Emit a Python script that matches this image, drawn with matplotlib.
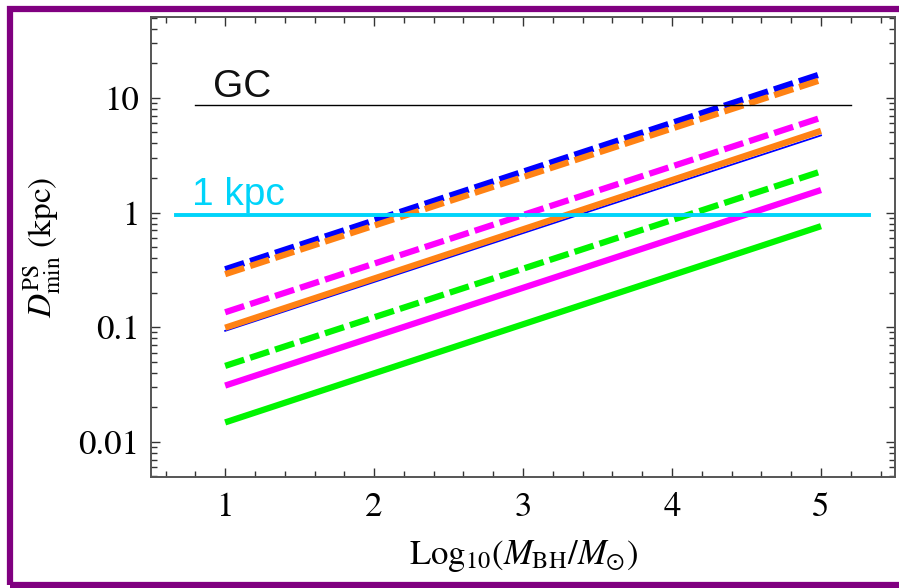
import matplotlib
matplotlib.use("Agg")
import matplotlib.pyplot as plt
from matplotlib.patches import Rectangle
from matplotlib.ticker import LogLocator, MultipleLocator, FixedLocator, FixedFormatter, NullFormatter

plt.rcParams['mathtext.fontset'] = 'stix'
plt.rcParams['font.family'] = ['STIXGeneral', 'DejaVu Serif']

# ---- data ----
log_mass = [1, 5]
blue_dashed = [0.32, 16.1]
orange_dashed = [0.29, 14.3]
magenta_dashed = [0.135, 6.7]
blue_solid = [0.093, 4.7]
orange_solid = [0.099, 5.15]
green_dashed = [0.046, 2.28]
magenta_solid = [0.031, 1.57]
green_solid = [0.0148, 0.76]

gc_x = [0.8, 5.2]
gc_y = [8.6, 8.6]
kpc_x = [0.67, 5.32]
kpc_y = [0.95, 0.95]

x_ticks = [1, 2, 3, 4, 5]
y_ticks = [0.01, 0.1, 1, 10]
y_tick_labels = ['0.01', '0.1', '1', '10']

BLUE = '#0000FF'
ORANGE = '#FF8214'
MAGENTA = '#FF00FF'
GREEN = '#00F500'
CYAN = '#00D4FA'

fig = plt.figure(figsize=(8.99, 5.88), dpi=100)
ax = fig.add_axes([0.1676, 0.1888, 0.9961 - 0.1676, 0.9716 - 0.1888])

lw = 4.5
dash = (3.2, 1.0)

def dashed(y, c):
    l, = ax.plot(log_mass, y, color=c, lw=lw, solid_capstyle='butt', dash_capstyle='butt')
    l.set_dashes(dash)

dashed(blue_dashed, BLUE)
dashed(orange_dashed, ORANGE)
dashed(magenta_dashed, MAGENTA)
ax.plot(log_mass, blue_solid, color=BLUE, lw=1.3)
ax.plot(log_mass, orange_solid, color=ORANGE, lw=lw, solid_capstyle='butt')
dashed(green_dashed, GREEN)
ax.plot(log_mass, magenta_solid, color=MAGENTA, lw=lw, solid_capstyle='butt')
ax.plot(log_mass, green_solid, color=GREEN, lw=lw, solid_capstyle='butt')

ax.plot(gc_x, gc_y, color='black', lw=1.0)
ax.plot(kpc_x, kpc_y, color=CYAN, lw=2.8)

ax.text(0.92, 8.65, 'GC', fontsize=28, family=['Liberation Sans'], color='#111111',
        ha='left', va='bottom')
ax.text(0.78, 0.99, '1 kpc', fontsize=28, family=['Liberation Sans'], color=CYAN,
        ha='left', va='bottom')

ax.set_yscale('log')
ax.set_xlim(0.5, 5.5)
ax.set_ylim(0.00495, 50.9)

ax.xaxis.set_major_locator(FixedLocator(x_ticks))
ax.xaxis.set_minor_locator(MultipleLocator(0.2))
ax.yaxis.set_major_locator(FixedLocator(y_ticks))
ax.yaxis.set_major_formatter(FixedFormatter(y_tick_labels))
ax.yaxis.set_minor_locator(LogLocator(base=10, subs=range(2, 10)))
ax.yaxis.set_minor_formatter(NullFormatter())

for s in ax.spines.values():
    s.set_color('#555555')
    s.set_linewidth(1.4)

ax.tick_params(which='both', direction='in', top=True, right=True, color='#333333', width=1.0)
ax.tick_params(which='major', length=6.5, labelsize=25)
ax.tick_params(which='minor', length=4)
ax.tick_params(axis='x', which='major', pad=11)
ax.tick_params(axis='y', which='major', pad=8)

ax.set_xlabel(r'$\mathrm{Log}_{10}(M_{\mathrm{BH}}/M_{\odot})$', fontsize=25, labelpad=10)
ax.set_ylabel(r'$D^{\mathrm{PS}}_{\mathrm{min}}$ (kpc)', fontsize=24, labelpad=11)

# purple frame (right side is cut off in the reference)
fig.patches.append(Rectangle((10 / 899, 3 / 588), 1.2, 1 - 12 / 588, transform=fig.transFigure,
                             fill=False, edgecolor='#800080', linewidth=4.5, zorder=10))

fig.savefig('out.png', dpi=100)
